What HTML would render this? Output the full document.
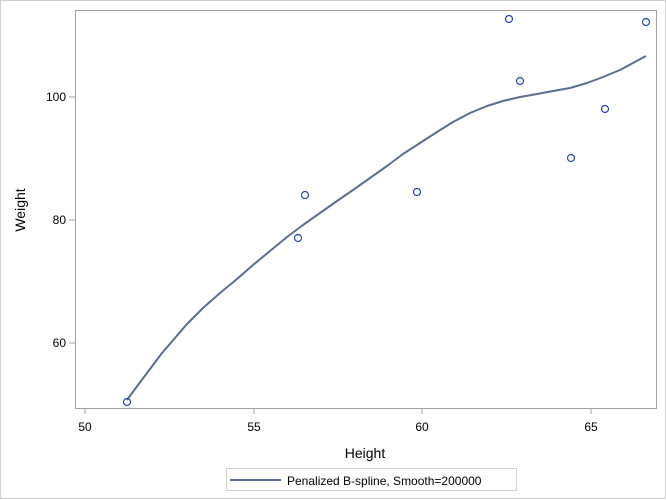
<!DOCTYPE html>
<html><head><style>body{margin:0;background:#fff}svg{display:block}text{font-family:"Liberation Sans",sans-serif;fill:#000}</style></head><body>
<svg width="666" height="500" viewBox="0 0 666 500">
<rect x="0.5" y="0.5" width="665" height="498" fill="#fff" stroke="#d0d0d0"/>
<rect x="75.5" y="10.5" width="581" height="398" fill="none" stroke="#a0a0a0"/>
<g stroke="#a0a0a0">
<line x1="85" y1="408" x2="85" y2="414"/><line x1="254" y1="408" x2="254" y2="414"/><line x1="422" y1="408" x2="422" y2="414"/><line x1="591" y1="408" x2="591" y2="414"/>
<line x1="69" y1="97" x2="75" y2="97"/><line x1="69" y1="220" x2="75" y2="220"/><line x1="69" y1="343" x2="75" y2="343"/>
</g>
<g font-size="12" text-anchor="middle">
<text x="85" y="431">50</text><text x="254" y="431">55</text><text x="422" y="431">60</text><text x="591" y="431">65</text>
</g>
<g font-size="12" text-anchor="end">
<text x="66" y="101">100</text><text x="66" y="224">80</text><text x="66" y="347">60</text>
</g>
<text x="365" y="458" font-size="14" text-anchor="middle">Height</text>
<text transform="translate(25,210) rotate(-90)" font-size="14" text-anchor="middle">Weight</text>
<polyline points="127,400 138,385 150,369 162,353 175,338 187,324 203,308 220,293 237,279 253,265 270,251 287,237 303,225 320,213 337,201 353,190 370,178 387,166 403,154 420,143 437,132 453,122 470,113 487,106 503,101 520,97 537,94 553,91 570,88 587,83 603,77 620,70 633,63 646,56" fill="none" stroke="#5a6d93" stroke-width="2" stroke-linejoin="round"/>
<g fill="none" stroke="#2548b0" stroke-width="1.2">
<circle cx="127" cy="402" r="3.5"/><circle cx="298" cy="238" r="3.5"/><circle cx="305" cy="195" r="3.5"/><circle cx="417" cy="192" r="3.5"/><circle cx="509" cy="19" r="3.5"/><circle cx="520" cy="81" r="3.5"/><circle cx="571" cy="158" r="3.5"/><circle cx="605" cy="109" r="3.5"/><circle cx="646" cy="22" r="3.5"/>
</g>
<rect x="226.5" y="468.5" width="290" height="22" fill="#fff" stroke="#d0d0d0"/>
<line x1="230" y1="480" x2="281" y2="480" stroke="#5a6d93" stroke-width="2"/>
<text x="287" y="485" font-size="12">Penalized B-spline, Smooth=200000</text>
</svg>
</body></html>
